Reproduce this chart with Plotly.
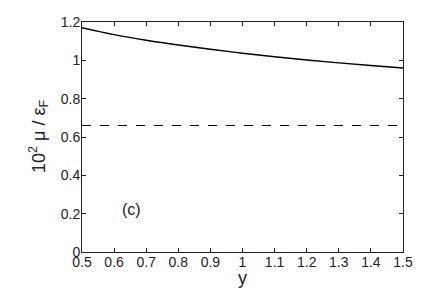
import plotly.graph_objects as go

# curve
y_vals = [0.5, 0.6, 0.7, 0.8, 0.9, 1.0, 1.1, 1.2, 1.3, 1.4, 1.5]
mu_solid = [1.17, 1.134, 1.105, 1.08, 1.058, 1.037, 1.019, 1.002, 0.987, 0.973, 0.96]
mu_dashed = [0.66] * len(y_vals)

x_ticks = [0.5, 0.6, 0.7, 0.8, 0.9, 1.0, 1.1, 1.2, 1.3, 1.4, 1.5]
x_labels = ["0.5", "0.6", "0.7", "0.8", "0.9", "1", "1.1", "1.2", "1.3", "1.4", "1.5"]
y_ticks = [0, 0.2, 0.4, 0.6, 0.8, 1.0, 1.2]
y_labels = ["0", "0.2", "0.4", "0.6", "0.8", "1", "1.2"]

fig = go.Figure()
fig.add_trace(go.Scatter(x=y_vals, y=mu_solid, mode="lines",
                         line=dict(color="black", width=1.4, shape="spline")))
fig.add_trace(go.Scatter(x=y_vals, y=mu_dashed, mode="lines",
                         line=dict(color="black", width=1.2, dash="dash")))

axis_style = dict(showline=True, linecolor="#222", linewidth=1, mirror="ticks",
                  ticks="inside", ticklen=4, tickcolor="#222", showgrid=False,
                  zeroline=False, automargin=False,
                  tickfont=dict(size=14, color="#222"))

fig.update_xaxes(range=[0.5, 1.5], tickvals=x_ticks, ticktext=x_labels,
                 ticklabelstandoff=-3, **axis_style)
fig.update_yaxes(range=[0, 1.2], tickvals=y_ticks, ticktext=y_labels,
                 ticklabelstandoff=-2, **axis_style)

# axis titles as annotations so they sit where the original has them
fig.add_annotation(xref="paper", yref="paper", x=0.5, y=0, yshift=-26,
                   text="y", showarrow=False, yanchor="middle",
                   font=dict(size=18, color="#222"))
fig.add_annotation(xref="paper", yref="paper", x=0, y=0.5, xshift=-44,
                   text="10<sup>2</sup> μ / ε<sub>F</sub>", textangle=-90,
                   showarrow=False, xanchor="center",
                   font=dict(size=18, color="#222"))

fig.add_annotation(x=0.653, y=0.224, text="(c)", showarrow=False,
                   font=dict(size=16, color="#222"))

# page body has an 8px margin, so the figure is shrunk by that much
fig.update_layout(width=428, height=283, showlegend=False,
                  margin=dict(l=74, r=33, t=14, b=39),
                  plot_bgcolor="white", paper_bgcolor="white",
                  font=dict(family="Liberation Sans, Arial, sans-serif"))

fig.write_html("out.html")
